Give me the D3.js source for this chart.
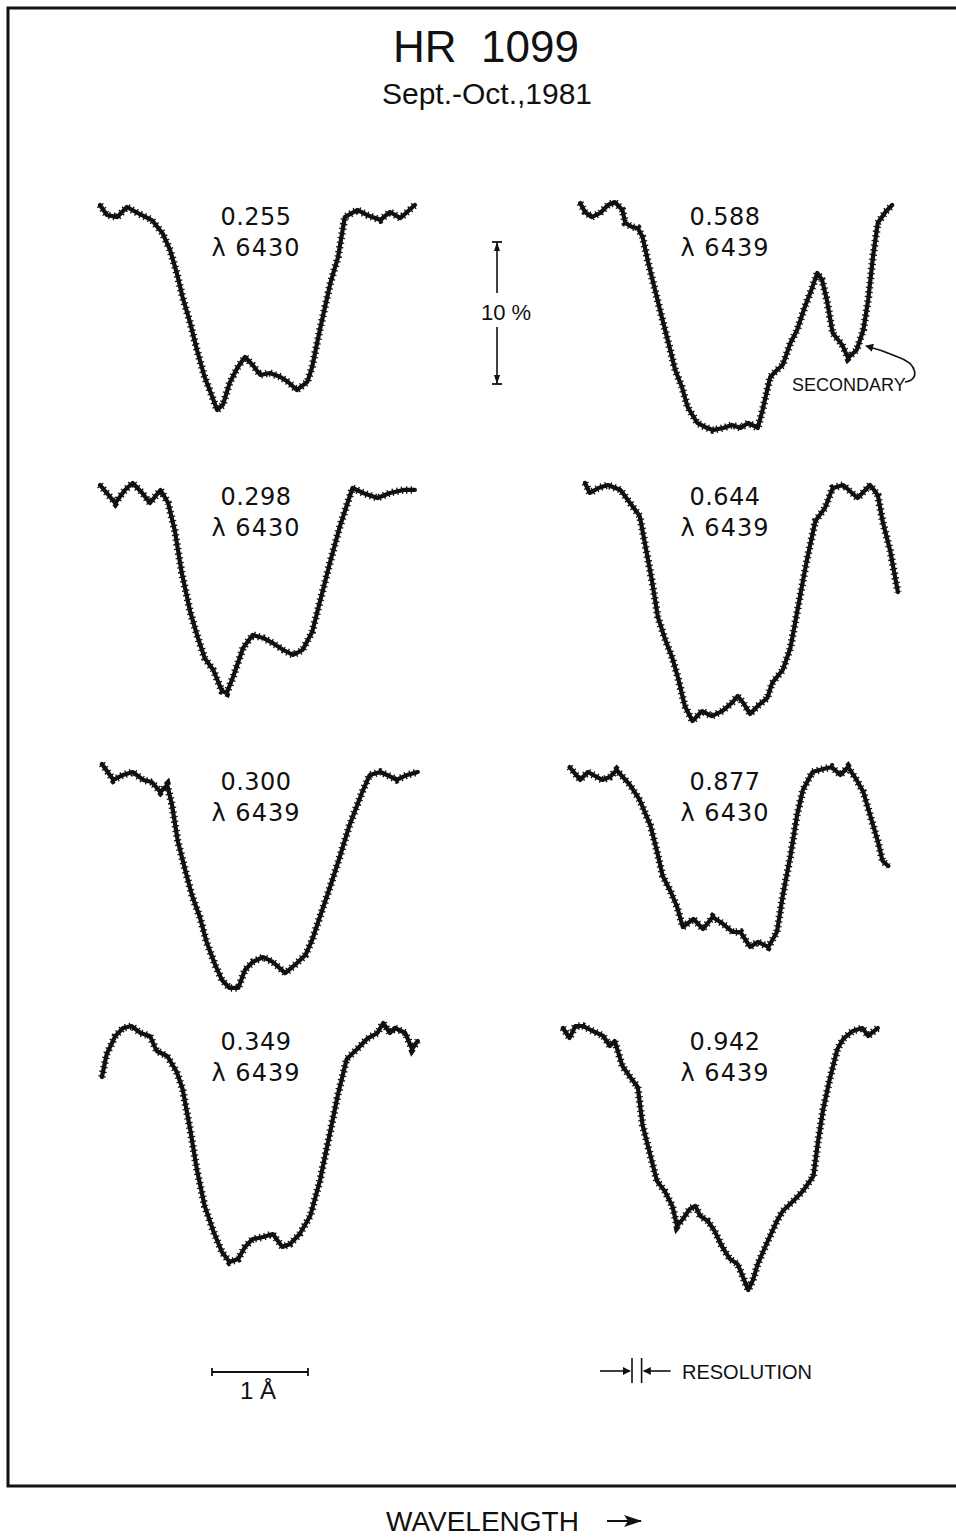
<!DOCTYPE html>
<html>
<head>
<meta charset="utf-8">
<script src="https://cdn.jsdelivr.net/npm/d3@7"></script>
<style>
  body { margin: 0; background: #fff; }
  text { fill: #111; }
</style>
</head>
<body>
<svg></svg>
<script>
// HR 1099 line profiles, Sept.-Oct. 1981
// wavelength offsets in Angstrom, flux in % of continuum

const phases = ["0.255", "0.298", "0.300", "0.349", "0.588", "0.644", "0.877", "0.942"]
const lineNames = ["λ 6430", "λ 6430", "λ 6439", "λ 6439", "λ 6439", "λ 6439", "λ 6430", "λ 6439"]

const wave255 = [0, .07, .18, .28, .39, .54, .65, .73, .80, .86, .94, 1.01, 1.09, 1.17, 1.22, 1.28, 1.35, 1.43, 1.51, 1.59, 1.67, 1.77, 1.88, 1.96, 2.05, 2.16, 2.21, 2.29, 2.40, 2.48, 2.55, 2.68, 2.78, 2.92, 3.02, 3.13, 3.28]
const flux255 = [100, 99.30, 99.15, 99.86, 99.44, 98.94, 98.03, 96.83, 95.21, 93.52, 91.69, 89.79, 87.89, 86.48, 85.56, 85.92, 87.46, 88.52, 89.30, 88.73, 88.03, 88.17, 87.89, 87.54, 86.97, 87.54, 88.59, 91.20, 94.51, 96.34, 99.15, 99.65, 99.30, 98.94, 99.51, 99.08, 100]

const wave298 = [0, .16, .26, .34, .44, .52, .63, .71, .78, .85, .94, 1.02, 1.09, 1.18, 1.27, 1.32, 1.39, 1.49, 1.59, 1.70, 1.80, 1.91, 2.01, 2.11, 2.21, 2.29, 2.40, 2.50, 2.63, 2.74, 2.89, 3.02, 3.16, 3.28]
const flux298 = [100, 98.73, 99.65, 100.14, 99.44, 98.73, 99.65, 98.73, 96.76, 93.87, 91.06, 89.23, 87.82, 86.97, 85.49, 85.35, 86.55, 88.52, 89.44, 89.23, 88.87, 88.38, 88.03, 88.38, 89.65, 91.76, 94.65, 97.11, 99.79, 99.44, 99.08, 99.44, 99.65, 99.65]

const wave300 = [.02, .14, .24, .34, .45, .54, .63, .70, .75, .81, .89, .96, 1.04, 1.11, 1.20, 1.27, 1.35, 1.44, 1.51, 1.59, 1.70, 1.80, 1.93, 2.03, 2.14, 2.21, 2.29, 2.40, 2.50, 2.60, 2.68, 2.74, 2.81, 2.92, 2.99, 3.09, 3.20, 3.31]
const flux300 = [100.42, 99.30, 99.65, 99.86, 99.30, 99.15, 98.45, 98.94, 97.54, 95.00, 92.89, 91.13, 89.65, 87.89, 86.27, 85.21, 84.65, 84.65, 85.92, 86.48, 86.83, 86.48, 85.70, 86.27, 86.97, 88.03, 89.65, 91.83, 93.94, 96.13, 97.54, 98.59, 99.65, 99.86, 99.65, 99.30, 99.65, 99.86]

const wave349 = [.02, .07, .16, .24, .33, .42, .52, .59, .70, .80, .86, .94, 1.01, 1.09, 1.18, 1.27, 1.35, 1.44, 1.51, 1.59, 1.70, 1.80, 1.90, 1.98, 2.08, 2.19, 2.29, 2.38, 2.48, 2.57, 2.68, 2.78, 2.89, 2.95, 3.02, 3.07, 3.18, 3.25, 3.31]
const flux349 = [96.69, 98.31, 99.58, 100.14, 100.28, 99.79, 99.58, 98.52, 98.17, 97.04, 95.85, 92.96, 90.14, 87.61, 85.85, 84.37, 83.66, 83.87, 84.72, 85.28, 85.42, 85.63, 84.72, 84.93, 85.63, 86.90, 89.37, 92.25, 95.49, 97.96, 98.66, 99.37, 99.79, 100.49, 99.79, 100.14, 99.79, 98.66, 99.23]

const wave588 = [.21, .26, .33, .42, .50, .57, .65, .68, .75, .81, .86, .92, .99, 1.06, 1.13, 1.20, 1.27, 1.33, 1.43, 1.51, 1.59, 1.70, 1.79, 1.88, 1.96, 2.06, 2.11, 2.19, 2.26, 2.32, 2.40, 2.47, 2.55, 2.63, 2.68, 2.73, 2.78, 2.84, 2.94, 3.00, 3.09, 3.16, 3.21, 3.26, 3.31, 3.39, 3.46]
const flux588 = [100.14, 99.51, 99.15, 99.44, 100, 100.21, 99.65, 98.73, 98.45, 98.38, 97.75, 95.92, 94.01, 92.11, 90.28, 88.38, 87.18, 85.77, 84.65, 84.37, 84.15, 84.30, 84.51, 84.30, 84.65, 84.30, 85.56, 87.89, 88.38, 88.73, 90.28, 91.20, 92.82, 94.23, 95.21, 94.72, 93.31, 90.99, 90.14, 89.23, 89.79, 91.20, 93.31, 96.34, 98.73, 99.51, 100]

const wave644 = [.26, .31, .40, .50, .63, .73, .83, .89, .96, 1.02, 1.09, 1.17, 1.23, 1.30, 1.38, 1.48, 1.58, 1.69, 1.79, 1.85, 1.91, 1.98, 2.06, 2.16, 2.21, 2.32, 2.40, 2.48, 2.57, 2.66, 2.76, 2.84, 2.95, 3.10, 3.23, 3.31, 3.36, 3.44, 3.52]
const flux644 = [100.14, 99.44, 99.79, 100, 99.65, 98.73, 97.82, 95.70, 93.17, 90.70, 89.23, 87.82, 86.41, 84.44, 83.38, 84.08, 83.73, 84.08, 84.65, 85.14, 84.65, 83.87, 84.44, 85.00, 86.06, 86.97, 88.52, 91.41, 94.65, 97.46, 98.38, 99.79, 100, 99.08, 100, 99.30, 97.46, 95.35, 92.46]

const wave877 = [.10, .21, .29, .44, .52, .59, .73, .83, .94, 1.01, 1.07, 1.15, 1.22, 1.28, 1.39, 1.49, 1.59, 1.70, 1.80, 1.88, 1.98, 2.06, 2.17, 2.26, 2.32, 2.40, 2.47, 2.53, 2.63, 2.74, 2.83, 2.92, 3.00, 3.09, 3.16, 3.23, 3.31, 3.36, 3.42]
const flux877 = [100.21, 99.30, 99.86, 99.30, 99.51, 100, 98.94, 97.89, 96.13, 94.30, 92.54, 91.48, 90.35, 88.94, 89.51, 88.80, 89.65, 89.15, 88.59, 88.59, 87.54, 87.89, 87.54, 88.59, 91.13, 93.94, 96.83, 98.59, 99.86, 100.07, 100.21, 99.65, 100.21, 99.30, 98.45, 96.83, 95.00, 93.59, 93.24]

const wave942 = [.03, .10, .16, .24, .34, .45, .52, .57, .65, .73, .81, .86, .94, 1.01, 1.09, 1.17, 1.22, 1.28, 1.35, 1.41, 1.46, 1.54, 1.61, 1.69, 1.77, 1.85, 1.91, 1.96, 2.01, 2.06, 2.16, 2.26, 2.32, 2.43, 2.53, 2.64, 2.69, 2.74, 2.81, 2.89, 2.95, 3.05, 3.15, 3.21, 3.31]
const flux942 = [100.14, 99.44, 100.28, 100.28, 99.93, 99.58, 98.87, 99.23, 97.46, 96.69, 95.99, 93.31, 91.20, 89.37, 88.66, 87.61, 86.20, 86.69, 87.39, 87.61, 86.90, 86.55, 85.85, 84.72, 83.87, 83.52, 82.54, 81.69, 82.39, 83.52, 85.07, 86.55, 87.25, 87.96, 88.66, 89.72, 92.25, 94.37, 96.55, 98.66, 99.37, 99.93, 100.14, 99.58, 100.14]

const waves = [wave255, wave298, wave300, wave349, wave588, wave644, wave877, wave942]
const fluxes = [flux255, flux298, flux300, flux349, flux588, flux644, flux877, flux942]

const scaleBarA = 1        // 1 Angstrom bar
const scaleBarPct = 10     // 10 % bar
const resolutionA = 0.1

const svg = d3.select("svg")
svg
	.attr("width", 956)
	.attr("height", 1540)

// panel layout: two columns, four rows
const colX = [100, 560]
const rowY = [205, 485, 770, 1030]
const labelX = [256, 725]

const scaleX = d3.scaleLinear()
	.domain([0, 1])
	.range([0, 96])

const scaleY = d3.scaleLinear()
	.domain([100, 90])
	.range([0, 142])

const font = "'DejaVu Sans', sans-serif"
const font2 = "'Liberation Sans', Arial, sans-serif"

// frame (open on the right, the page is cut there)
svg.append("path")
	.attr("d", "M 970 8 H 8 V 1486 H 970")
	.attr("fill", "none")
	.attr("stroke", "#111")
	.attr("stroke-width", 3)

svg.append("text")
	.attr("x", 486).attr("y", 62)
	.attr("text-anchor", "middle")
	.attr("font-family", font2)
	.attr("font-size", 44)
	.text("HR\u00a0\u00a01099")

svg.append("text")
	.attr("x", 487).attr("y", 104)
	.attr("text-anchor", "middle")
	.attr("font-family", font2)
	.attr("font-size", 30)
	.text("Sept.-Oct.,1981")

const line = d3.line()
	.x(d => scaleX(d[0]))
	.y(d => scaleY(d[1]))

const panels = svg.selectAll("g.panel")
	.data(phases)
	.enter()
	.append("g")
	.attr("class", "panel")
	.attr("transform", (d, i) => `translate(${colX[Math.floor(i / 4)]},${rowY[i % 4]})`)

panels.append("path")
	.attr("d", (d, i) => line(waves[i].map((w, j) => [w, fluxes[i][j]])))
	.attr("fill", "none")
	.attr("stroke", "#111")
	.attr("stroke-width", 4.2)
	.attr("stroke-linejoin", "round")
	.attr("stroke-linecap", "round")

// little plotted-point crosses along the trace
panels.append("path")
	.attr("d", (d, i) => line(waves[i].map((w, j) => [w, fluxes[i][j]])))
	.attr("fill", "none")
	.attr("stroke", "#111")
	.attr("stroke-width", 7.5)
	.attr("stroke-dasharray", "1.3 3.4")

panels.append("text")
	.attr("x", (d, i) => labelX[Math.floor(i / 4)] - colX[Math.floor(i / 4)])
	.attr("y", 20)
	.attr("text-anchor", "middle")
	.attr("font-family", font)
	.attr("font-size", 24)
	.attr("letter-spacing", 0.5)
	.text(d => d)

panels.append("text")
	.attr("x", (d, i) => labelX[Math.floor(i / 4)] - colX[Math.floor(i / 4)])
	.attr("y", 51)
	.attr("text-anchor", "middle")
	.attr("font-family", font)
	.attr("font-size", 24)
	.attr("letter-spacing", 1)
	.text((d, i) => lineNames[i])

// 10% vertical bar
const pctBar = svg.append("g").attr("transform", "translate(497,242)")
const pTop = scaleY(100)
const pBot = scaleY(100 - scaleBarPct)
pctBar.append("line").attr("x1", 0).attr("x2", 0).attr("y1", pTop).attr("y2", 51).attr("stroke", "#111").attr("stroke-width", 1.6)
pctBar.append("line").attr("x1", 0).attr("x2", 0).attr("y1", 85).attr("y2", pBot).attr("stroke", "#111").attr("stroke-width", 1.6)
pctBar.selectAll("line.cap")
	.data([pTop, pBot])
	.enter()
	.append("line")
	.attr("class", "cap")
	.attr("x1", -5).attr("x2", 5)
	.attr("y1", d => d).attr("y2", d => d)
	.attr("stroke", "#111").attr("stroke-width", 1.8)
pctBar.append("path").attr("d", `M 0 ${pTop} L -3 ${pTop + 9} L 3 ${pTop + 9} Z`).attr("fill", "#111")
pctBar.append("path").attr("d", `M 0 ${pBot} L -3 ${pBot - 9} L 3 ${pBot - 9} Z`).attr("fill", "#111")
pctBar.append("text")
	.attr("x", 9).attr("y", 78)
	.attr("text-anchor", "middle")
	.attr("font-family", font2)
	.attr("font-size", 22)
	.text("10 %")

// secondary annotation
svg.append("defs").append("marker")
	.attr("id", "head")
	.attr("viewBox", "0 0 10 10")
	.attr("refX", 9).attr("refY", 5)
	.attr("markerWidth", 8).attr("markerHeight", 8)
	.attr("markerUnits", "userSpaceOnUse")
	.attr("orient", "auto")
	.append("path")
	.attr("d", "M 0 0 L 10 5 L 0 10 Z")
	.attr("fill", "#111")

svg.append("path")
	.attr("d", "M 905 382 C 920 380 918 364 898 357 Q 882 350 866 346")
	.attr("fill", "none")
	.attr("stroke", "#111")
	.attr("stroke-width", 1.6)
	.attr("marker-end", "url(#head)")

svg.append("text")
	.attr("x", 792).attr("y", 391)
	.attr("font-family", font2)
	.attr("font-size", 18)
	.text("SECONDARY")

// 1 Angstrom bar
const aBar = svg.append("g").attr("transform", "translate(212,1372)")
aBar.append("line").attr("x1", scaleX(0)).attr("x2", scaleX(scaleBarA)).attr("y1", 0).attr("y2", 0).attr("stroke", "#111").attr("stroke-width", 1.8)
aBar.selectAll("line.tick")
	.data([0, scaleBarA])
	.enter()
	.append("line")
	.attr("class", "tick")
	.attr("x1", d => scaleX(d)).attr("x2", d => scaleX(d))
	.attr("y1", -4).attr("y2", 4)
	.attr("stroke", "#111").attr("stroke-width", 1.8)
aBar.append("text")
	.attr("x", scaleX(scaleBarA / 2) - 2).attr("y", 27)
	.attr("text-anchor", "middle")
	.attr("font-family", font2)
	.attr("font-size", 24)
	.text("1 Å")

// resolution marker
const rBar = svg.append("g").attr("transform", "translate(632,1371)")
rBar.selectAll("line.res")
	.data([0, resolutionA])
	.enter()
	.append("line")
	.attr("class", "res")
	.attr("x1", d => scaleX(d)).attr("x2", d => scaleX(d))
	.attr("y1", -13).attr("y2", 12)
	.attr("stroke", "#111").attr("stroke-width", 1.6)
rBar.append("line").attr("x1", -32).attr("x2", -2).attr("y1", 0).attr("y2", 0).attr("stroke", "#111").attr("stroke-width", 1.6).attr("marker-end", "url(#head)")
rBar.append("line").attr("x1", scaleX(resolutionA) + 29).attr("x2", scaleX(resolutionA) + 2).attr("y1", 0).attr("y2", 0).attr("stroke", "#111").attr("stroke-width", 1.6).attr("marker-end", "url(#head)")
rBar.append("text")
	.attr("x", 50).attr("y", 8)
	.attr("font-family", font2)
	.attr("font-size", 20)
	.text("RESOLUTION")

// wavelength direction
svg.append("text")
	.attr("x", 386).attr("y", 1531)
	.attr("font-family", font2)
	.attr("font-size", 28)
	.text("WAVELENGTH")
svg.append("line")
	.attr("x1", 607).attr("x2", 641)
	.attr("y1", 1521).attr("y2", 1521)
	.attr("stroke", "#111").attr("stroke-width", 2)
svg.append("path")
	.attr("d", "M 642 1521 L 624 1515 L 628 1521 L 624 1527 Z")
	.attr("fill", "#111")
</script>
</body>
</html>
